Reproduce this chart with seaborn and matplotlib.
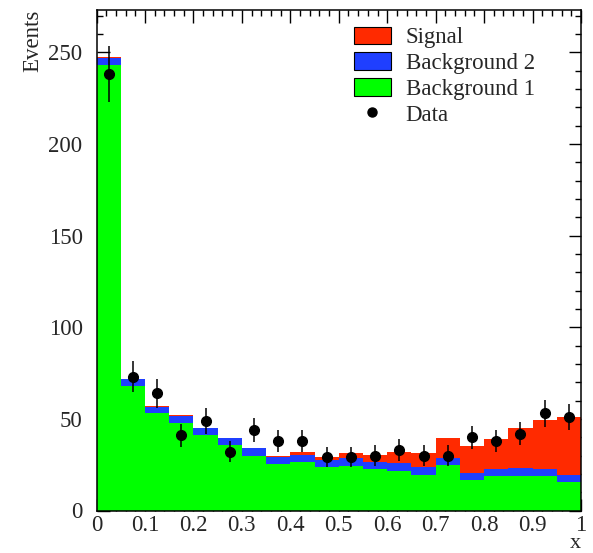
import numpy as np
import pandas as pd
import matplotlib
matplotlib.use("Agg")
import matplotlib.pyplot as plt
import seaborn as sns
from matplotlib.patches import Patch
from matplotlib.lines import Line2D
from matplotlib.ticker import MultipleLocator, FormatStrFormatter

sns.set_theme(style='ticks')
plt.rcParams['font.family'] = ['Liberation Serif', 'DejaVu Serif']
plt.rcParams['mathtext.fontset'] = 'stix'

# 20 bins of width 0.05 between 0 and 1
edges = [round(0.05 * i, 2) for i in range(21)]
centers = [round(0.05 * i + 0.025, 3) for i in range(20)]

bkg1 = [243, 68, 53, 48, 41, 36, 30, 25.3, 26.6, 23.9,
        24.3, 22.8, 21.7, 19.5, 24.8, 16.4, 19, 18.8, 18.6, 15.3]
bkg2 = [4, 3.7, 3.7, 3.6, 4, 3.5, 4, 4.1, 3.8, 3.6,
        4.3, 3.8, 4, 4, 3.6, 4, 3.6, 4.2, 3.8, 4]
signal = [0.2, 0.1, 0.2, 0.4, 0.2, 0.3, 0.3, 0.6, 1.5, 1.9,
          2.8, 3.8, 6.4, 7.9, 11.4, 14.8, 16.2, 22.2, 27, 31.9]
data = [238, 73, 64, 41, 49, 32, 44, 38, 38, 29,
        29, 30, 33, 30, 30, 40, 38, 42, 53, 51]

c_sig = '#ff2a00'
c_b2 = '#1f3fff'
c_b1 = '#00ff00'

df = pd.DataFrame({'x': centers, 'bkg1': bkg1, 'bkg2': bkg2, 'signal': signal, 'data': data})
df['stack_b2'] = df['bkg1'] + df['bkg2']
df['stack_all'] = df['stack_b2'] + df['signal']

fig = plt.figure(figsize=(5.93, 5.53), dpi=100)
ax = fig.add_axes([96.5 / 593, 1 - 510.5 / 553, (581 - 96.5) / 593, (510.5 - 10) / 553])

# stacked histogram drawn from the top layer down
for col, color in [('stack_all', c_sig), ('stack_b2', c_b2), ('bkg1', c_b1)]:
    sns.histplot(x=df['x'], weights=df[col], bins=edges, element='step', fill=True,
                 color=color, alpha=1, linewidth=0, ax=ax)

ax.errorbar(df['x'], df['data'], yerr=np.sqrt(df['data']), fmt='o', color='black',
            markersize=7, elinewidth=1.1, capsize=0, zorder=5)

ax.set_xlim(0, 1)
ax.set_ylim(0, 273)
ax.xaxis.set_major_locator(MultipleLocator(0.1))
ax.xaxis.set_minor_locator(MultipleLocator(0.02))
ax.yaxis.set_major_locator(MultipleLocator(50))
ax.yaxis.set_minor_locator(MultipleLocator(10))
ax.xaxis.set_major_formatter(FormatStrFormatter('%g'))
ax.tick_params(which='both', direction='in', top=True, right=True, width=1, color='black')
ax.tick_params(which='major', length=9, labelsize=16.5)
ax.tick_params(which='minor', length=4.5)
ax.tick_params(axis='y', which='major', pad=10)
ax.tick_params(axis='x', which='major', pad=3)
for s in ax.spines.values():
    s.set_visible(True)
    s.set_linewidth(1.1)
    s.set_color('black')

ax.set_ylabel('Events', fontsize=16.5, loc='top')
ax.yaxis.set_label_coords(-0.11, 1.0)
ax.set_xlabel('x', fontsize=16, loc='right', labelpad=-1.5)

handles = [Patch(facecolor=c_sig, edgecolor='black', linewidth=0.8),
           Patch(facecolor=c_b2, edgecolor='black', linewidth=0.8),
           Patch(facecolor=c_b1, edgecolor='black', linewidth=0.8),
           Line2D([], [], marker='o', linestyle='none', color='black', markersize=6.5)]
labels = ['Signal', 'Background 2', 'Background 1', 'Data']
fig.legend(handles, labels, loc='upper left', bbox_to_anchor=(0.597, 0.952), frameon=False,
           fontsize=16.5, handlelength=1.6, handleheight=0.8, handletextpad=0.65,
           labelspacing=0.18, borderpad=0, borderaxespad=0)

fig.savefig('out.png', dpi=100)
